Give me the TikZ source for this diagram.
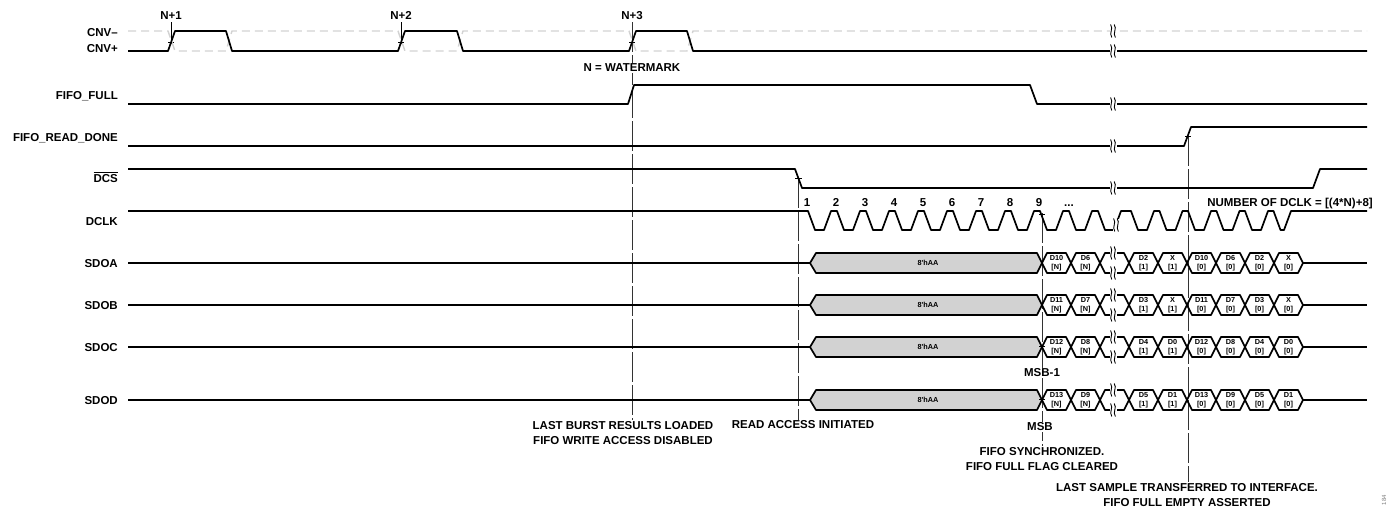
\documentclass[tikz,border=0pt]{standalone}
\usepackage{fontspec}
\setmainfont{Liberation Sans}
\usetikzlibrary{positioning}

\begin{document}
\begin{tikzpicture}[
  x=1pt, y=-1pt,
  sig/.style={line width=1.7pt, line join=round},
  ghost/.style={line width=1.4pt, gray!35, dash pattern=on 8pt off 5pt},
  guide/.style={line width=0.8pt, black!80, dash pattern=on 30pt off 3pt},
  edgetick/.style={line width=0.8pt},
  signame/.style={anchor=east, inner sep=0pt, text height=8pt, text depth=0pt,
                  font=\fontsize{11.5}{13}\selectfont\bfseries},
  note/.style={align=center, inner sep=1pt, fill=white,
               font=\fontsize{11.5}{15}\selectfont\bfseries},
  cyc/.style={anchor=base, inner sep=0pt, font=\fontsize{11.5}{13}\selectfont\bfseries},
  bit/.style={align=center, inner sep=0pt, font=\fontsize{7.3}{8.5}\selectfont\bfseries},
  busfill/.style={fill=gray!35},
  pics/brk/.style={code={
    \fill[white] (-3.5,-6.5) rectangle (3.5,6.5);
    \foreach \dx in {-1.8,1.8}
      \draw[line width=0.9pt] (\dx-0.6,-6.5) .. controls (\dx+2.6,-2) and (\dx-2.6,2) .. (\dx+0.6,6.5);
  }},
]
\useasboundingbox (0,0) rectangle (1390,512);

% Signal names
\node[signame] (cnvm) at (118,32) {CNV\textendash};
\node[signame] (cnvp) at (118,48) {CNV+};
\node[signame] (full) at (118,95) {FIFO\_FULL};
\node[signame] (done) at (118,137) {FIFO\_READ\_DONE};
\node[signame] (dcs)  at (118,178) {$\overline{\hbox{DCS}}$};
\node[signame] (dclk) at (118,221) {DCLK};

% Conversion markers
\node[cyc] (n1) at (171,19) {N+1};
\node[cyc] (n2) at (401,19) {N+2};
\node[cyc] (n3) at (632,19) {N+3};
\draw[edgetick] (n1.south) ++(0,3) -- ++(0,22);
\draw[edgetick] (n2.south) ++(0,3) -- ++(0,22);
\foreach \x in {171,401,632}
  \draw[edgetick] (\x-3,42) -- (\x+3,42);

% Event notes
\node[note] (burst) at (623,433) {LAST BURST RESULTS LOADED\\FIFO WRITE ACCESS DISABLED};
\node[note] (rd) at (803,425) {READ ACCESS INITIATED};
\node[note] (sync) at (1042,459) {FIFO SYNCHRONIZED.\\FIFO FULL FLAG CLEARED};
\node[note] (last) at (1187,495) {LAST SAMPLE TRANSFERRED TO INTERFACE.\\FIFO FULL EMPTY ASSERTED};

% Guide lines
\coordinate (dcsfall) at (798,178);
\coordinate (msbedge) at (1042,213);
\coordinate (doneedge) at (1188,136);
\draw[guide] (n3.south) ++(0,3) -- (n3.south |- burst.north);
\draw[guide] (dcsfall) -- (dcsfall |- rd.north);
\draw[guide] (msbedge) -- (msbedge |- sync.north);
\draw[guide] (doneedge) -- (doneedge |- last.north);

\node[note] (wm) at (632,68) {N = WATERMARK};
\node[note] (msb1) at (1042,373) {MSB-1};
\node[note] (msb) at (1040,427) {MSB};

% CNV- (gray) and CNV+
\draw[ghost] (128,31) \foreach \r/\f in {168/226,398/457,629/687}
  { -- (\r,31) -- (\r+7,51) -- (\f,51) -- (\f+6,31) } -- (1367,31);
\draw[sig] (128,51) \foreach \r/\f in {168/226,398/457,629/687}
  { -- (\r,51) -- (\r+7,31) -- (\f,31) -- (\f+6,51) } -- (1367,51);

% FIFO_FULL, FIFO_READ_DONE, DCS
\draw[sig] (128,104) -- (628,104) -- (634,85) -- (1030,85) -- (1037,104) -- (1367,104);
\draw[sig] (128,146) -- (1184,146) -- (1191,127) -- (1367,127);
\draw[sig] (128,169) -- (795,169) -- (802,188) -- (1313,188) -- (1320,169) -- (1367,169);
\draw[edgetick] (795,178) -- (802,178);
\draw[edgetick] (1185,136) -- (1191,136);

% DCLK
\draw[sig] (128,211)
  \foreach \f in {808,837,...,1098} { -- (\f,211) -- (\f+7,230) -- (\f+16,230) -- (\f+23,211) }
  \foreach \f in {1131,1159.5,...,1245} { -- (\f,211) -- (\f+7,230) -- (\f+16,230) -- (\f+23,211) }
  -- (1273.5,211) -- (1280.5,230) -- (1284,230) -- (1291,211) -- (1367,211);
\draw[edgetick] (1039,214) -- (1045,214);
\foreach \k in {1,...,9}
  \node[cyc] (clk\k) at (807+29*\k-29,206) {\k};
\node[cyc] (clkdots) at (1069,206) {...};
\node[cyc] (nclk) at (1290,206) {NUMBER OF DCLK = [(4*N)+8]};

% SDOA..SDOD
\foreach \ch/\y/\pa/\pb/\pc/\pd in {A/263/10/6/2/X, B/305/11/7/3/X, C/347/12/8/4/D0, D/400/13/9/5/D1} {
  \node[signame] (sdo\ch) at (118,\y) {SDO\ch};
  \draw[sig] (128,\y) -- (810,\y);
  \draw[sig, busfill] (810,\y) -- ++(6,-10) -- (1037,\y-10) -- (1042,\y) -- (1037,\y+10) -- (816,\y+10) -- cycle;
  \node[bit] (aa\ch) at (928,\y) {8\textquotesingle hAA};
  \foreach \i/\t/\s in {0/D\pa/N, 1/D\pb/N, 3/D\pc/1, 4/\pd/1, 5/D\pa/0, 6/D\pb/0, 7/D\pc/0, 8/\pd/0} {
    \draw[sig] (1042+29*\i,\y) -- ++(5,-10) -- ++(19,0) -- ++(5,10) -- ++(-5,10) -- ++(-19,0) -- cycle;
    \node[bit] (d\ch\i) at (1056.5+29*\i,\y) {\t\\{}[\s]};
  }
  \draw[sig] (1100,\y) -- ++(5,-10) -- ++(19,0) -- ++(5,10) -- ++(-5,10) -- ++(-19,0) -- cycle;
  \pic at (1113,\y-10) {brk};
  \pic at (1113,\y+10) {brk};
  \draw[sig] (1303,\y) -- (1367,\y);
}
\draw[edgetick] (1039,346) -- (1045,346);
\draw[edgetick] (1039,399) -- (1045,399);

% Breaks
\foreach \y in {31,51,104,146,188}
  \pic at (1113,\y) {brk};
\pic at (1116,225) {brk};

\node[rotate=90, text=gray, font=\fontsize{6}{7}\selectfont] (fig) at (1384,500) {184};
\end{tikzpicture}
\end{document}
